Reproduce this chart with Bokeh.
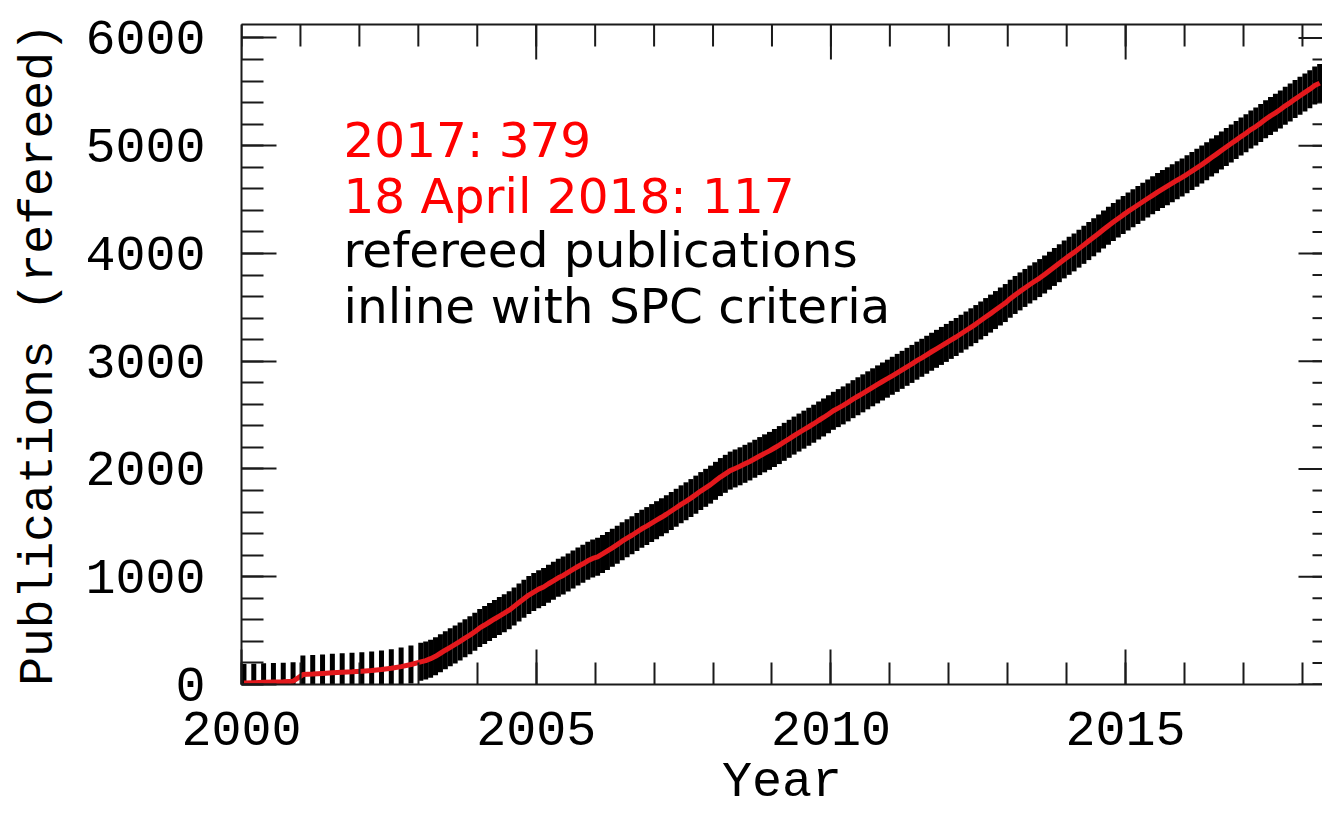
import math

from bokeh.plotting import figure
from bokeh.models import Range1d, LinearAxis, FixedTicker, Label, ColumnDataSource
from bokeh.embed import file_html
from bokeh.resources import INLINE

# Cumulative number of refereed publications.
# 2000-2002: one sample every second month; from 2003: one sample per month.
bimonthly = [1, 3, 5, 7, 9, 11]
monthly = list(range(1, 13))

total_2000 = [14, 17, 20, 23, 26, 30]
total_2001 = [92, 97, 103, 108, 113, 118]
total_2002 = [124, 130, 139, 150, 166, 186]
total_2003 = [210, 222, 240, 262, 290, 318, 345, 372, 400, 430, 458, 490]
total_2004 = [525, 552, 580, 608, 635, 662, 690, 725, 760, 795, 830, 858]
total_2005 = [885, 905, 935, 962, 990, 1012, 1040, 1068, 1095, 1120, 1148, 1170]
total_2006 = [1185, 1212, 1240, 1268, 1298, 1330, 1358, 1385, 1415, 1445, 1470, 1498]
total_2007 = [1525, 1552, 1580, 1610, 1640, 1672, 1700, 1730, 1762, 1795, 1825, 1855]
total_2008 = [1890, 1925, 1955, 1985, 2005, 2025, 2048, 2070, 2095, 2120, 2145, 2168]
total_2009 = [2195, 2222, 2252, 2280, 2310, 2338, 2365, 2392, 2420, 2450, 2478, 2508]
total_2010 = [2540, 2565, 2590, 2618, 2648, 2675, 2702, 2730, 2758, 2785, 2812, 2838]
total_2011 = [2865, 2892, 2920, 2948, 2975, 3005, 3032, 3060, 3088, 3115, 3142, 3170]
total_2012 = [3198, 3225, 3255, 3285, 3315, 3345, 3378, 3410, 3442, 3475, 3508, 3540]
total_2013 = [3580, 3615, 3648, 3680, 3712, 3742, 3772, 3805, 3840, 3875, 3910, 3945]
total_2014 = [3978, 4010, 4045, 4080, 4115, 4150, 4185, 4222, 4258, 4292, 4325, 4358]
total_2015 = [4390, 4420, 4450, 4480, 4510, 4540, 4570, 4598, 4625, 4652, 4680, 4706]
total_2016 = [4735, 4765, 4795, 4825, 4857, 4890, 4922, 4955, 4988, 5020, 5052, 5085]
total_2017 = [5116, 5150, 5178, 5210, 5245, 5277, 5305, 5336, 5370, 5400, 5433, 5464]
total_2018 = [5495, 5525, 5558, 5581]   # up to 18 April 2018

x_major = [2000, 2005, 2010, 2015]
x_minor = list(range(2000, 2019))
y_major = [0, 1000, 2000, 3000, 4000, 5000, 6000]
y_minor = list(range(0, 6101, 200))

notes_red = ["2017: 379", "18 April 2018: 117"]
notes_black = ["refereed publications", "inline with SPC criteria"]

series = [
    (2000, bimonthly, total_2000), (2001, bimonthly, total_2001),
    (2002, bimonthly, total_2002), (2003, monthly, total_2003),
    (2004, monthly, total_2004), (2005, monthly, total_2005),
    (2006, monthly, total_2006), (2007, monthly, total_2007),
    (2008, monthly, total_2008), (2009, monthly, total_2009),
    (2010, monthly, total_2010), (2011, monthly, total_2011),
    (2012, monthly, total_2012), (2013, monthly, total_2013),
    (2014, monthly, total_2014), (2015, monthly, total_2015),
    (2016, monthly, total_2016), (2017, monthly, total_2017),
    (2018, monthly[:4], total_2018),
]

xs, ys = [], []
for year, months, totals in series:
    for m, t in zip(months, totals):
        xs.append(year + (m - 0.5) / 12.0)
        ys.append(t)

src = ColumnDataSource(data=dict(x=xs, y=ys))

X_START, X_END = 2000, 2018.34
Y_START, Y_END = 0, 6125

AXIS_FONT = "Liberation Mono"
INK = "#1a1a1a"

p = figure(width=1322, height=813, output_backend="svg", toolbar_location=None,
           x_range=Range1d(X_START, X_END), y_range=Range1d(Y_START, Y_END),
           min_border_left=241, min_border_right=0, min_border_top=24,
           min_border_bottom=129, background_fill_color="white",
           border_fill_color="white")
p.grid.visible = False
p.outline_line_color = None

xticker = FixedTicker(ticks=x_major, minor_ticks=x_minor)
yticker = FixedTicker(ticks=y_major, minor_ticks=y_minor)


def style_axis(ax, ticker, major_in, minor_in):
    ax.ticker = ticker
    ax.axis_line_color = INK
    ax.axis_line_width = 2
    ax.major_tick_line_color = INK
    ax.minor_tick_line_color = INK
    ax.major_tick_line_width = 2
    ax.minor_tick_line_width = 2
    ax.major_tick_in = major_in
    ax.major_tick_out = 0
    ax.minor_tick_in = minor_in
    ax.minor_tick_out = 0


xb = p.xaxis[0]
style_axis(xb, xticker, 35, 22)
xb.major_label_text_font = AXIS_FONT
xb.major_label_text_font_size = "50px"
xb.major_label_text_color = "black"
xb.major_label_standoff = 27
xb.axis_label = "Year"
xb.axis_label_text_font = AXIS_FONT
xb.axis_label_text_font_size = "50px"
xb.axis_label_text_font_style = "normal"
xb.axis_label_text_color = "black"
xb.axis_label_standoff = 6

yl = p.yaxis[0]
style_axis(yl, yticker, 35, 22)
yl.major_label_text_font = AXIS_FONT
yl.major_label_text_font_size = "50px"
yl.major_label_text_color = "black"
yl.major_label_standoff = 36
yl.axis_label = "Publications (refereed)"
yl.axis_label_text_font = AXIS_FONT
yl.axis_label_text_font_size = "48px"
yl.axis_label_text_font_style = "normal"
yl.axis_label_text_color = "black"
yl.axis_label_standoff = 16

# top frame line only; its ticks are drawn below as clipped markers
top = LinearAxis(ticker=FixedTicker(ticks=[], minor_ticks=[]))
top.axis_line_color = INK
top.axis_line_width = 2
p.add_layout(top, "above")

# inward ticks on the top and right edges (markers are clipped to the frame)
p.scatter(x=x_minor, y=[Y_END] * len(x_minor), marker="dash", size=44,
          angle=math.pi / 2, line_color=INK, line_width=2)
p.scatter(x=x_major, y=[Y_END] * len(x_major), marker="dash", size=70,
          angle=math.pi / 2, line_color=INK, line_width=2)
p.scatter(x=[X_END] * len(y_minor), y=y_minor, marker="dash", size=20,
          line_color=INK, line_width=2)
p.scatter(x=[X_END] * len(y_major), y=y_major, marker="dash", size=48,
          line_color=INK, line_width=2)

# samples drawn as tall black bars, running total in red on top
p.rect(x="x", y="y", width=5, height=38, width_units="screen",
       height_units="screen", source=src, fill_color="black", line_color=None)
p.line(x="x", y="y", source=src, line_color="#e3181c", line_width=5)

note_x = 2001.73
for text, yv, color in [(notes_red[0], 5049, "#ff0000"),
                        (notes_red[1], 4529, "#ff0000"),
                        (notes_black[0], 4028, "black"),
                        (notes_black[1], 3517, "black")]:
    p.add_layout(Label(x=note_x, y=yv, text=text, text_font="DejaVu Sans",
                       text_font_size="48.5px", text_color=color,
                       text_baseline="alphabetic", text_align="left"))

open("out.html", "w").write(file_html(p, INLINE))
